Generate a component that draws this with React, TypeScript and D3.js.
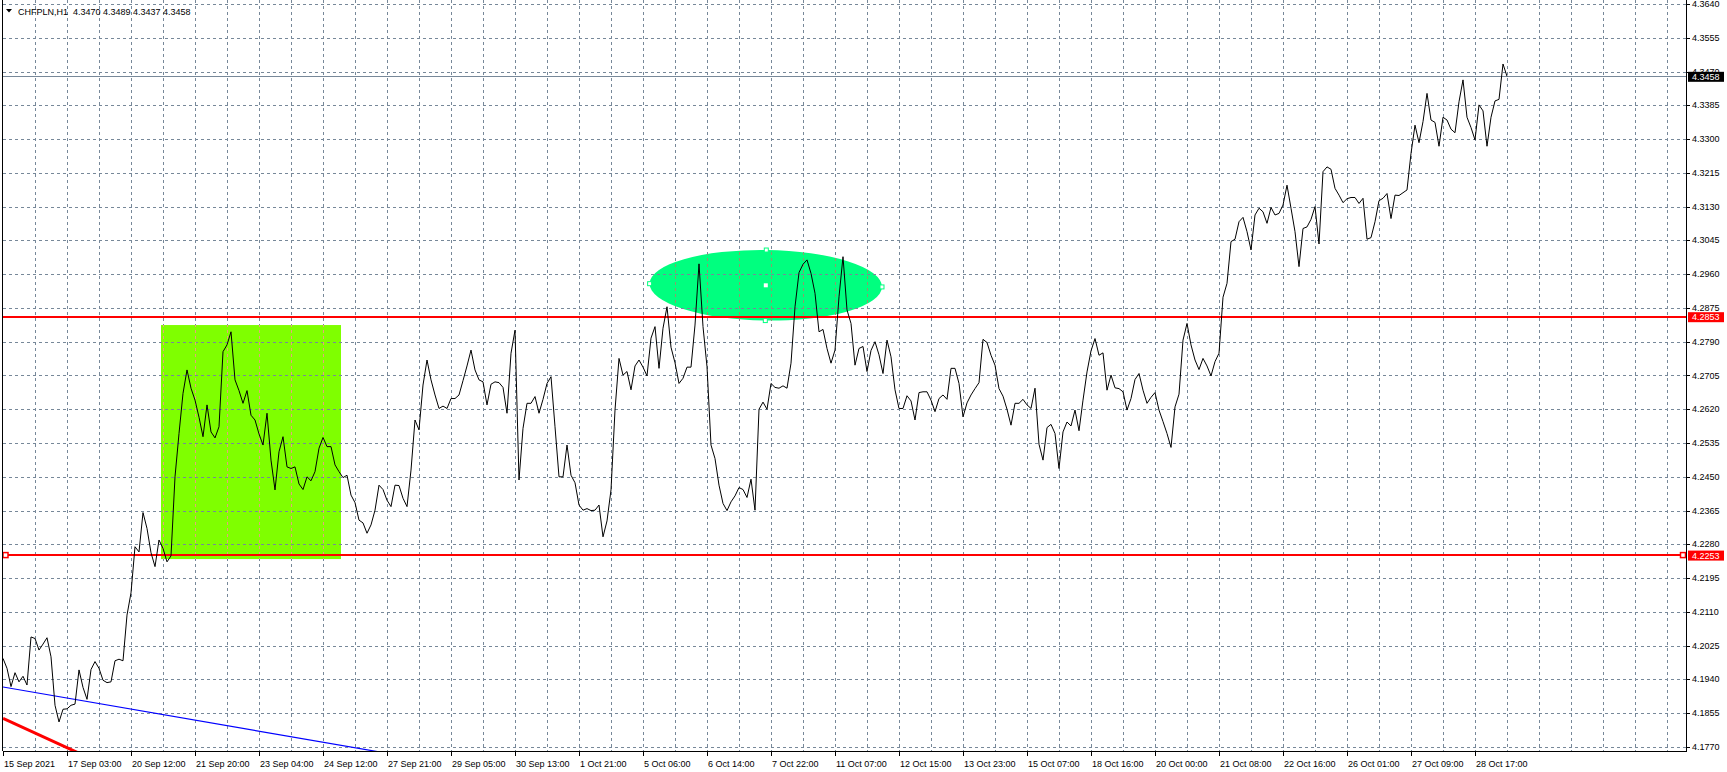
import React from 'react';
import * as d3 from 'd3';

const W = 1727;
const H = 772;

// closes sampled every 2 hourly bars (bar index = 2 * position)
const closes = [
  4.1993, 4.1968, 4.1922, 4.1957, 4.1934, 4.1948, 4.1926, 4.2047, 4.2043, 4.2014,
  4.2029, 4.2045, 4.1997, 4.1875, 4.1833, 4.1865, 4.1866, 4.1875, 4.1878, 4.1964,
  4.1920, 4.1890, 4.1965, 4.1985, 4.1968, 4.1938, 4.1932, 4.1934, 4.1987, 4.1991,
  4.1987, 4.2102, 4.2158, 4.2274, 4.2261, 4.2360, 4.2320, 4.2259, 4.2224, 4.2291,
  4.2270, 4.2236, 4.2251, 4.2450, 4.2559, 4.2660, 4.2719, 4.2673, 4.2643, 4.2600,
  4.2551, 4.2631, 4.2563, 4.2548, 4.2576, 4.2765, 4.2782, 4.2815, 4.2694, 4.2667,
  4.2635, 4.2667, 4.2605, 4.2593, 4.2558, 4.2530, 4.2610, 4.2492, 4.2417, 4.2513,
  4.2551, 4.2475, 4.2471, 4.2475, 4.2432, 4.2418, 4.2450, 4.2440, 4.2463, 4.2522,
  4.2549, 4.2526, 4.2526, 4.2480, 4.2463, 4.2448, 4.2454, 4.2404, 4.2385, 4.2341,
  4.2334, 4.2308, 4.2329, 4.2366, 4.2429, 4.2418, 4.2391, 4.2375, 4.2429, 4.2428,
  4.2396, 4.2375, 4.2467, 4.2593, 4.2568, 4.2681, 4.2744, 4.2694, 4.2656, 4.2622,
  4.2628, 4.2622, 4.2647, 4.2647, 4.2656, 4.2692, 4.2729, 4.2769, 4.2719, 4.2694,
  4.2689, 4.2631, 4.2683, 4.2689, 4.2687, 4.2675, 4.2610, 4.2761, 4.2819, 4.2442,
  4.2572, 4.2635, 4.2635, 4.2652, 4.2610, 4.2645, 4.2685, 4.2702, 4.2576, 4.2450,
  4.2450, 4.2530, 4.2454, 4.2435, 4.2379, 4.2366, 4.2370, 4.2365, 4.2366, 4.2379,
  4.2299, 4.2339, 4.2417, 4.2618, 4.2748, 4.2706, 4.2715, 4.2669, 4.2729, 4.2744,
  4.2726, 4.2704, 4.2799, 4.2828, 4.2723, 4.2824, 4.2878, 4.2776, 4.2737, 4.2685,
  4.2698, 4.2726, 4.2726, 4.2832, 4.2986, 4.2828, 4.2727, 4.2530, 4.2496, 4.2429,
  4.2383, 4.2365, 4.2387, 4.2402, 4.2423, 4.2418, 4.2398, 4.2444, 4.2366, 4.2620,
  4.2638, 4.2620, 4.2685, 4.2675, 4.2673, 4.2679, 4.2673, 4.2736, 4.2878, 4.2964,
  4.2985, 4.2996, 4.2962, 4.2912, 4.2815, 4.2821, 4.2773, 4.2736, 4.2769, 4.2903,
  4.3004, 4.2870, 4.2836, 4.2731, 4.2773, 4.2778, 4.2715, 4.2768, 4.2790, 4.2757,
  4.2710, 4.2794, 4.2752, 4.2669, 4.2622, 4.2622, 4.2654, 4.2641, 4.2593, 4.2662,
  4.2664, 4.2664, 4.2643, 4.2614, 4.2647, 4.2656, 4.2645, 4.2723, 4.2723, 4.2685,
  4.2601, 4.2636, 4.2656, 4.2672, 4.2687, 4.2796, 4.2788, 4.2756, 4.2731, 4.2672,
  4.2653, 4.2620, 4.2580, 4.2635, 4.2635, 4.2645, 4.2631, 4.2622, 4.2673, 4.2532,
  4.2492, 4.2574, 4.2582, 4.2559, 4.2471, 4.2563, 4.2588, 4.2578, 4.2618, 4.2566,
  4.2643, 4.2714, 4.2767, 4.2798, 4.2756, 4.2762, 4.2668, 4.2706, 4.2674, 4.2672,
  4.2664, 4.2618, 4.2647, 4.2695, 4.2710, 4.2668, 4.2635, 4.2650, 4.2662, 4.2618,
  4.2589, 4.2559, 4.2524, 4.2626, 4.2658, 4.2794, 4.2836, 4.2782, 4.2744, 4.2720,
  4.2748, 4.2729, 4.2704, 4.2740, 4.2761, 4.2902, 4.2937, 4.3042, 4.3048, 4.3092,
  4.3103, 4.3067, 4.3021, 4.3109, 4.3126, 4.3117, 4.3088, 4.3128, 4.3109, 4.3113,
  4.3134, 4.3184, 4.3126, 4.3067, 4.2979, 4.3075, 4.3079, 4.3098, 4.3130, 4.3036,
  4.3218, 4.3230, 4.3224, 4.3176, 4.3159, 4.3140, 4.3150, 4.3153, 4.3153, 4.3138,
  4.3151, 4.3048, 4.3052, 4.3092, 4.3145, 4.3151, 4.3163, 4.3100, 4.3159, 4.3158,
  4.3165, 4.3172, 4.3264, 4.3335, 4.3291, 4.3344, 4.3415, 4.3348, 4.3342, 4.3282,
  4.3355, 4.3348, 4.3325, 4.3316, 4.3394, 4.3449, 4.3355, 4.3329, 4.3298, 4.3386,
  4.3371, 4.3282, 4.3355, 4.3396, 4.3400, 4.3489, 4.3458,
];
const BARS_PER_SAMPLE = 2;

const priceTicks = d3.range(0, 23).map((i) => +(4.177 + i * 0.0085).toFixed(4));

const timeLabels = [
  '15 Sep 2021', '17 Sep 03:00', '20 Sep 12:00', '21 Sep 20:00', '23 Sep 04:00',
  '24 Sep 12:00', '27 Sep 21:00', '29 Sep 05:00', '30 Sep 13:00', '1 Oct 21:00',
  '5 Oct 06:00', '6 Oct 14:00', '7 Oct 22:00', '11 Oct 07:00', '12 Oct 15:00',
  '13 Oct 23:00', '15 Oct 07:00', '18 Oct 16:00', '20 Oct 00:00', '21 Oct 08:00',
  '22 Oct 16:00', '26 Oct 01:00', '27 Oct 09:00', '28 Oct 17:00',
];
const BARS_PER_LABEL = 32;

const title = 'CHFPLN,H1  4.3470 4.3489 4.3437 4.3458';
const currentPrice = 4.3458;
const levelHigh = 4.2853;
const levelLow = 4.2253;

// rectangle object: [bar1, price1, bar2, price2]
const rectObj = [79, 4.2832, 169, 4.2243];
// ellipse object: center bar, center price, radius in bars, radius in price, tilt deg
const ellipseObj = [381.4, 4.2932, 58.1, 0.00888, 0.8];
// blue trend line: [bar1, price1, bar2, price2]
const blueTrend = [0, 4.1921, 152, 4.1789];
// red trend line
const redTrend = [0, 4.1842, 23, 4.1789];

const FONT = '"Liberation Sans", Arial, sans-serif';
const GRID = '#778899';

export default function App() {
  const left = 3;
  const right = 1686;
  const bottom = 751;
  const x = d3.scaleLinear().domain([0, 841.5]).range([left, right]);
  const y = d3.scaleLinear().domain([4.177, 4.364]).range([747, 4]);
  const px = (v: number) => Math.round(v) + 0.5;

  const line = d3
    .line<number>()
    .x((_, i) => x(i * BARS_PER_SAMPLE))
    .y((d) => y(d));

  const vGrid = d3.range(1, 53).map((n) => x(n * 16));
  const labelXs = timeLabels.map((_, j) => x(j * BARS_PER_LABEL));

  const rx1 = x(rectObj[0]);
  const rx2 = x(rectObj[2]);
  const ry1 = y(rectObj[1]);
  const ry2 = y(rectObj[3]);

  const ecx = x(ellipseObj[0]);
  const ecy = y(ellipseObj[1]);
  const erx = x(ellipseObj[2]) - x(0);
  const ery = y(4.2) - y(4.2 + ellipseObj[3]);
  const tilt = ellipseObj[4];
  const rad = (tilt * Math.PI) / 180;
  const eHandles = [
    [ecx - erx * Math.cos(rad), ecy - erx * Math.sin(rad)],
    [ecx + erx * Math.cos(rad), ecy + erx * Math.sin(rad)],
    [ecx + ery * Math.sin(rad), ecy - ery * Math.cos(rad)],
    [ecx - ery * Math.sin(rad), ecy + ery * Math.cos(rad)],
  ];

  const ray = (t: number[]) => {
    const x1 = x(t[0]);
    const y1 = y(t[1]);
    const x2 = x(t[2]);
    const y2 = y(t[3]);
    const slope = (y2 - y1) / (x2 - x1);
    const xe = x1 + (bottom + 10 - y1) / slope;
    return { x1, y1, x2: xe, y2: bottom + 10 };
  };
  const blue = ray(blueTrend);
  const red = ray(redTrend);

  const yCur = y(currentPrice);
  const yHi = y(levelHigh);
  const yLo = y(levelLow);

  return (
    <svg
      width={W}
      height={H}
      style={{ position: 'absolute', left: 0, top: 0, background: '#fff' }}
      fontFamily={FONT}
    >
      <defs>
        <clipPath id="plot">
          <rect x={left} y={0} width={right - left} height={bottom} />
        </clipPath>
        <clipPath id="rectClip">
          <rect x={rx1} y={ry1} width={rx2 - rx1} height={ry2 - ry1} />
        </clipPath>
        <clipPath id="ellClip">
          <ellipse cx={ecx} cy={ecy} rx={erx} ry={ery} transform={`rotate(${tilt} ${ecx} ${ecy})`} />
        </clipPath>
      </defs>
      <rect x={0} y={0} width={W} height={H} fill="#fff" />

      <g clipPath="url(#plot)">
        <rect x={rx1} y={ry1} width={rx2 - rx1} height={ry2 - ry1} fill="#7fff00" />
        <ellipse
          cx={ecx}
          cy={ecy}
          rx={erx}
          ry={ery}
          fill="#00ff7f"
          transform={`rotate(${tilt} ${ecx} ${ecy})`}
        />
      </g>

      <g stroke={GRID} strokeWidth={1} strokeDasharray="3,3" shapeRendering="crispEdges">
        {priceTicks.map((t) => (
          <line key={'h' + t} x1={left} x2={right} y1={px(y(t))} y2={px(y(t))} />
        ))}
        {vGrid.map((v, i) => (
          <line key={'v' + i} x1={px(v)} x2={px(v)} y1={0} y2={bottom} />
        ))}
      </g>
      <g clipPath="url(#rectClip)" stroke="#e8a27a" strokeDasharray="3,3" shapeRendering="crispEdges">
        {vGrid.map((v, i) => (
          <line key={'rv' + i} x1={px(v)} x2={px(v)} y1={0} y2={bottom} />
        ))}
      </g>
      <g clipPath="url(#ellClip)" stroke="#8f9a6a" strokeDasharray="3,3" shapeRendering="crispEdges">
        {vGrid.map((v, i) => (
          <line key={'ev' + i} x1={px(v)} x2={px(v)} y1={0} y2={bottom} />
        ))}
      </g>

      <line x1={left} x2={right} y1={px(yCur)} y2={px(yCur)} stroke="#778899" strokeWidth={1} shapeRendering="crispEdges" />

      <line x1={left} x2={right} y1={yHi} y2={yHi} stroke="#ff0000" strokeWidth={2} shapeRendering="crispEdges" />
      <line x1={left} x2={right} y1={yLo} y2={yLo} stroke="#ff0000" strokeWidth={2} shapeRendering="crispEdges" />
      <rect x={3} y={yLo - 2.5} width={5} height={5} fill="#fff" stroke="#ff0000" strokeWidth={1.5} />
      <rect x={right - 5.5} y={yLo - 2.5} width={5} height={5} fill="#fff" stroke="#ff0000" strokeWidth={1.5} />

      <g clipPath="url(#plot)">
        <line x1={blue.x1} y1={blue.y1} x2={blue.x2} y2={blue.y2} stroke="#0000ff" strokeWidth={1.2} />
        <line x1={red.x1} y1={red.y1} x2={red.x2} y2={red.y2} stroke="#ff0000" strokeWidth={3} />
      </g>

      <g clipPath="url(#plot)">
        <path d={line(closes) || ''} fill="none" stroke="#000" strokeWidth={1} strokeLinejoin="miter" />
      </g>

      {eHandles.map((h, i) => (
        <rect key={'eh' + i} x={h[0] - 2} y={h[1] - 2} width={4} height={4} fill="#fff" stroke="#00ff7f" strokeWidth={1} />
      ))}
      <rect x={ecx - 2} y={ecy - 2} width={4} height={4} fill="#fff" />

      <g stroke="#000" strokeWidth={1} shapeRendering="crispEdges">
        <line x1={2.5} x2={2.5} y1={0} y2={bottom} />
        <line x1={right + 0.5} x2={right + 0.5} y1={0} y2={bottom + 0.5} />
        <line x1={2.5} x2={right + 0.5} y1={bottom + 0.5} y2={bottom + 0.5} />
      </g>

      <g fontSize={9} fill="#000">
        {priceTicks.map((t) => (
          <g key={'pl' + t}>
            <line x1={right} x2={right + 4} y1={px(y(t))} y2={px(y(t))} stroke="#000" shapeRendering="crispEdges" />
            <text x={1692} y={y(t)} dominantBaseline="central">
              {t.toFixed(4)}
            </text>
          </g>
        ))}
      </g>
      <g fontSize={9}>
        <rect x={1688} y={yCur - 4.5} width={36} height={10} fill="#000" />
        <text x={1692} y={yCur + 0.5} dominantBaseline="central" fill="#fff">
          {currentPrice.toFixed(4)}
        </text>
        <rect x={1688} y={yHi - 4.5} width={36} height={10} fill="#ff0000" />
        <text x={1692} y={yHi + 0.5} dominantBaseline="central" fill="#fff">
          {levelHigh.toFixed(4)}
        </text>
        <rect x={1688} y={yLo - 4.5} width={36} height={10} fill="#ff0000" />
        <text x={1692} y={yLo + 0.5} dominantBaseline="central" fill="#fff">
          {levelLow.toFixed(4)}
        </text>
      </g>

      <g fontSize={9} fill="#000">
        {timeLabels.map((lab, j) => (
          <g key={'tl' + j}>
            <line x1={px(labelXs[j])} x2={px(labelXs[j])} y1={bottom} y2={bottom + 5} stroke="#000" shapeRendering="crispEdges" />
            <text x={labelXs[j] + 1} y={767}>
              {lab}
            </text>
          </g>
        ))}
      </g>

      <path d="M6,9 L12,9 L9,12.5 Z" fill="#000" />
      <text x={18} y={15} fontSize={9} fill="#000" style={{ whiteSpace: 'pre' }}>
        {title}
      </text>
    </svg>
  );
}
